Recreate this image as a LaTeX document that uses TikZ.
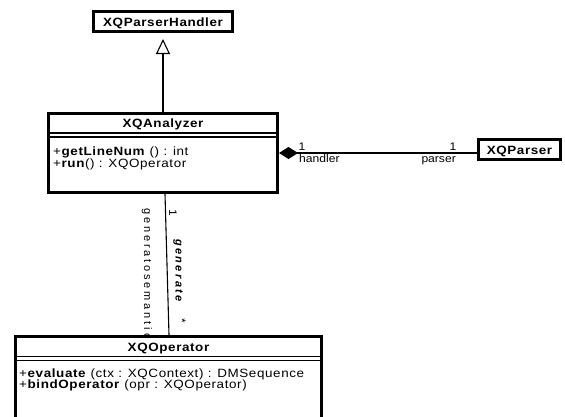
\documentclass[tikz,border=0pt]{standalone}
\usepackage{fontspec}
\setmainfont{Liberation Sans}
\newfontfamily\clsfont[FakeStretch=1.12,LetterSpace=5.0]{Liberation Sans}
\newfontfamily\lblfont[FakeStretch=1.1]{Liberation Sans}
\newfontfamily\rotfont[LetterSpace=26.0]{Liberation Sans}
\newfontfamily\genfont[LetterSpace=22.0]{Liberation Sans}
\usetikzlibrary{arrows.meta}
\begin{document}
\begin{tikzpicture}[x=1pt,y=-1pt,
  classbox/.style={draw, line width=3pt, fill=white, inner sep=0pt},
  sepline/.style={line width=1.6pt},
  cname/.style={font=\clsfont\fontsize{12}{12}\selectfont\bfseries, inner sep=0pt, anchor=base},
  member/.style={font=\clsfont\fontsize{12}{12}\selectfont, inner sep=0pt, anchor=base west},
  conn/.style={line width=1.1pt},
  elabel/.style={font=\lblfont\fontsize{11}{11}\selectfont, inner sep=0pt},
  rlabel/.style={inner sep=0pt, rotate=-90}
]
\useasboundingbox (0,0) rectangle (565,416);

% class boxes
\node[classbox, minimum width=139pt, minimum height=20pt] (ph) at (163,21.5) {};
\node[classbox, minimum width=229pt, minimum height=79pt] (an) at (163,153) {};
\node[classbox, minimum width=82pt, minimum height=20pt] (ps) at (519.5,149.5) {};
\node[classbox, minimum width=306pt, minimum height=88.5pt] (op) at (168.5,380.75) {};

% compartment separators
\draw[sepline] ([yshift=-21pt]an.north west) -- ([yshift=-21pt]an.north east);
\draw[sepline] ([yshift=-25pt]an.north west) -- ([yshift=-25pt]an.north east);
\draw[sepline] ([yshift=-21.5pt]op.north west) -- ([yshift=-21.5pt]op.north east);
\draw[sepline] ([yshift=-25.5pt]op.north west) -- ([yshift=-25.5pt]op.north east);

% class names
\node[cname] (phname) at (163,26) {XQParserHandler};
\node[cname] (anname) at (163,127.5) {XQAnalyzer};
\node[cname] (psname) at (519.5,154.5) {XQParser};
\node[cname] (opname) at (168.5,351) {XQOperator};

% members
\node[member] (an1) at (53,155.5) {+\textbf{getLineNum} () : int};
\node[member] (an2) at (53,167.5) {+\textbf{run}() : XQOperator};
\node[member] (op1) at (19,377.5) {+\textbf{evaluate} (ctx : XQContext) : DMSequence};
\node[member] (op2) at (19,388.5) {+\textbf{bindOperator} (opr : XQOperator)};

% generalization
\draw[conn, -{Triangle[open, length=15pt, width=14pt, line width=1.1pt]}, shorten >=6pt] (an.north) -- (ph.south);

% composition
\draw[conn, {Diamond[length=19pt, width=12pt]}-] (an.east) -- (ps.west |- an.east);
\node[elabel, anchor=base] (l1a) at (302,150) {1};
\node[elabel, anchor=base west] (lh) at (299,162) {handler};
\node[elabel, anchor=base] (l1b) at (453,150) {1};
\node[elabel, anchor=base east] (lp) at (456,162) {parser};

% association generate
\draw[conn] ([xshift=2pt]an.south) -- ([xshift=0.5pt]op.north);
\node[rlabel, font=\lblfont\fontsize{11}{11}\selectfont] (g1) at (173,213) {1};
\node[rlabel, font=\genfont\fontsize{11}{11}\selectfont\bfseries\itshape] (gen) at (178,270.5) {generate};
\node[rlabel, font=\lblfont\fontsize{11}{11}\selectfont] (gstar) at (182,321) {*};
\node[rlabel, anchor=west, font=\rotfont\fontsize{11}{11}\selectfont] (gsem) at (147,208) {generatosemantic};
\end{tikzpicture}
\end{document}
